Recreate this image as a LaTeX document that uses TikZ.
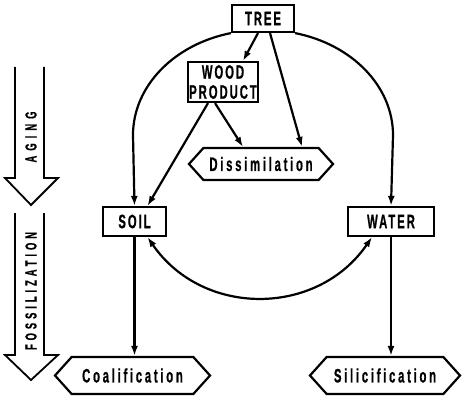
\documentclass[tikz,border=0pt]{standalone}
\usepackage{fontspec}
\setmainfont{Liberation Sans}
\newfontfamily\capsfont{Liberation Sans}[FakeStretch=0.58,LetterSpace=10,BoldFeatures={FakeBold=0.6}]
\newfontfamily\lowfont{Liberation Sans}[FakeStretch=0.58,LetterSpace=14,BoldFeatures={FakeBold=0.6}]
\newfontfamily\agingfont{Liberation Sans}[FakeStretch=0.58,LetterSpace=32,BoldFeatures={FakeBold=0.6}]
\newfontfamily\fossfont{Liberation Sans}[FakeStretch=0.58,LetterSpace=25,BoldFeatures={FakeBold=0.6}]
\usetikzlibrary{arrows.meta,calc,shapes.symbols}
\begin{document}
\begin{tikzpicture}[x=1pt,y=-1pt,
  box/.style={draw, line width=2.2pt, inner sep=0pt, minimum height=27,
    font=\capsfont\bfseries\fontsize{19.5}{20}\selectfont, align=center},
  hexbox/.style={draw, line width=2.2pt, shape=signal, signal to=west and east,
    signal pointer angle=96, inner sep=0pt,
    font=\lowfont\bfseries\fontsize{19.5}{20}\selectfont},
  conn/.style={line width=2.2pt, -{Latex[length=10pt,width=7pt]}},
  dconn/.style={line width=2.2pt, {Latex[length=10pt,width=7pt]}-{Latex[length=10pt,width=7pt]}},
  bigarrow/.style={line width=1.8pt, line join=miter},
  side/.style={rotate=90, inner sep=0pt}
]
\useasboundingbox (0,0) rectangle (462,398);

% boxes
\node[box, minimum width=62, minimum height=27] (tree) at (263,18.5) {TREE};
\node[box, minimum width=70, minimum height=40] (wood) at (223,82) {WOOD\\PRODUCT};
\node[box, minimum width=63, minimum height=29] (soil) at (134.5,221.5) {SOIL};
\node[box, minimum width=86, minimum height=29] (water) at (391,221.5) {WATER};

% hexagons
\node[hexbox, minimum width=144, minimum height=32] (dis) at (261,164) {Dissimilation};
\node[hexbox, minimum width=155, minimum height=37] (coal) at (132.5,375.5) {Coalification};
\node[hexbox, minimum width=150, minimum height=37] (sil) at (385,375.5) {Silicification};

% connectors
\draw[conn] (tree.south west) arc[start angle=-103.6, end angle=-180, x radius=128, y radius=105] -- (soil.north);
\draw[conn] (tree.south east) arc[start angle=-76.4, end angle=0, x radius=128, y radius=105] -- (water.north);
\draw[conn] ($(tree.south)+(-5,0)$) -- ($(wood.north)+(20,0)$);
\draw[conn] ($(tree.south)+(7,0)$) -- ($(dis.north)+(41,0)$);
\draw[conn] ($(wood.south)+(-8,0)$) -- ($(dis.north)+(-18,0)$);
\draw[conn] ($(wood.south)+(-15,0)$) -- ($(soil.north)+(13,0)$);
\draw[conn] (soil.south) -- (soil.south |- coal.north);
\draw[conn] (water.south) -- (water.south |- sil.north);
\draw[dconn] ($(soil.south)+(13,0)$) .. controls +(55,80) and +(-55,80) .. ($(water.south)+(-19,0)$);

% side arrows
\draw[bigarrow] (15,67) -- (15,178) -- (5,178) -- (31,205) -- (58,178) -- (44,178) -- (44,67);
\draw[bigarrow] (15,213) -- (15,355) -- (5,355) -- (31,380) -- (58,355) -- (44,355) -- (44,213);
\node[side, font=\agingfont\bfseries\fontsize{16}{18}\selectfont] (aging) at (31,137) {AGING};
\node[side, font=\fossfont\bfseries\fontsize{16}{18}\selectfont] (foss) at (31,291) {FOSSILIZATION};
\end{tikzpicture}
\end{document}
